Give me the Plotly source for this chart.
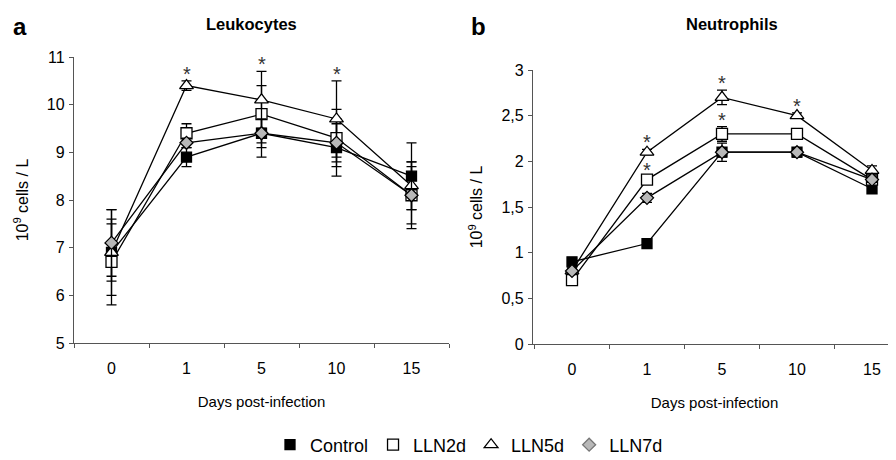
import plotly.graph_objects as go

days = ["0", "1", "5", "10", "15"]
groups = ["Control", "LLN2d", "LLN5d", "LLN7d"]

# Leukocytes (10^9 cells / L)
leuko_mean = {
    "Control": [6.9, 8.9, 9.4, 9.1, 8.5],
    "LLN2d":   [6.7, 9.4, 9.8, 9.3, 8.1],
    "LLN5d":   [6.9, 10.4, 10.1, 9.7, 8.3],
    "LLN7d":   [7.1, 9.2, 9.4, 9.2, 8.1],
}
leuko_err = {
    "Control": [0.9, 0.2, 0.5, 0.6, 0.7],
    "LLN2d":   [0.9, 0.2, 0.6, 0.6, 0.7],
    "LLN5d":   [0.6, 0.1, 0.6, 0.8, 0.5],
    "LLN7d":   [0.7, 0.1, 0.3, 0.4, 0.6],
}
# Neutrophils (10^9 cells / L)
neutro_mean = {
    "Control": [0.9, 1.1, 2.1, 2.1, 1.7],
    "LLN2d":   [0.7, 1.8, 2.3, 2.3, 1.8],
    "LLN5d":   [0.8, 2.1, 2.7, 2.5, 1.9],
    "LLN7d":   [0.8, 1.6, 2.1, 2.1, 1.8],
}
neutro_err = {
    "Control": [0.03, 0.03, 0.1, 0.05, 0.03],
    "LLN2d":   [0.03, 0.03, 0.08, 0.03, 0.03],
    "LLN5d":   [0.03, 0.03, 0.08, 0.03, 0.05],
    "LLN7d":   [0.03, 0.05, 0.05, 0.05, 0.03],
}
# significance marks (group, day index)
leuko_sig = [("LLN5d", 1), ("LLN5d", 2), ("LLN5d", 3)]
neutro_sig = [("LLN5d", 1), ("LLN5d", 2), ("LLN5d", 3), ("LLN2d", 1), ("LLN2d", 2)]

leuko_ticks = [5, 6, 7, 8, 9, 10, 11]
neutro_ticks = [0, 0.5, 1, 1.5, 2, 2.5, 3]
neutro_ticktext = ["0", "0,5", "1", "1,5", "2", "2,5", "3"]

styles = {
    "Control": dict(symbol="square", color="black", size=10),
    "LLN2d": dict(symbol="square", color="white", size=11),
    "LLN5d": dict(symbol="triangle-up", color="white", size=12),
    "LLN7d": dict(symbol="diamond", color="#b8b8b8", size=10),
}

FONT = "Liberation Sans, Arial, sans-serif"
W, H = 896, 460
OX, OY = 8, 8  # page body margin offset of the plot div


def fx(px):
    return (px - OX) / W


def fy(py):
    return 1 - (py - OY) / H


fig = go.Figure()

for g in groups:
    st = styles[g]
    for (mean, err, xa, ya) in [(leuko_mean, leuko_err, "x", "y"), (neutro_mean, neutro_err, "x2", "y2")]:
        fig.add_trace(go.Scatter(
            x=days, y=mean[g], xaxis=xa, yaxis=ya, mode="lines+markers", name=g,
            showlegend=False,
            line=dict(color="black", width=1.3),
            marker=dict(symbol=st["symbol"], color=st["color"], size=st["size"],
                        line=dict(color="black", width=1.3)),
            error_y=dict(type="data", array=err[g], color="black", thickness=1.3, width=5),
        ))
    # legend entry
    fig.add_trace(go.Scatter(
        x=[None], y=[None], mode="markers", name=g, showlegend=True,
        marker=dict(symbol=st["symbol"], color=st["color"], size=st["size"],
                    line=dict(color="black" if g != "LLN7d" else "#777", width=1.3)),
    ))

annotations = []
for (g, i) in leuko_sig:
    annotations.append(dict(x=i, y=leuko_mean[g][i] + leuko_err[g][i], xref="x", yref="y",
                            text="*", showarrow=False, yanchor="bottom", yshift=-6,
                            font=dict(family=FONT, size=20, color="#333")))
for (g, i) in neutro_sig:
    annotations.append(dict(x=i, y=neutro_mean[g][i] + neutro_err[g][i], xref="x2", yref="y2",
                            text="*", showarrow=False, yanchor="bottom", yshift=-6,
                            font=dict(family=FONT, size=20, color="#333")))

annotations += [
    dict(x=fx(20), y=fy(27), xref="paper", yref="paper", text="<b>a</b>", showarrow=False,
         font=dict(family=FONT, size=24, color="black"), xanchor="center", yanchor="middle"),
    dict(x=fx(478), y=fy(27), xref="paper", yref="paper", text="<b>b</b>", showarrow=False,
         font=dict(family=FONT, size=24, color="black"), xanchor="center", yanchor="middle"),
    dict(x=fx(252), y=fy(24), xref="paper", yref="paper", text="<b>Leukocytes</b>", showarrow=False,
         font=dict(family=FONT, size=16.5, color="black"), xanchor="center", yanchor="middle"),
    dict(x=fx(732), y=fy(24), xref="paper", yref="paper", text="<b>Neutrophils</b>", showarrow=False,
         font=dict(family=FONT, size=16.5, color="black"), xanchor="center", yanchor="middle"),
]

axis_common = dict(showline=True, linecolor="#555", linewidth=1.3, showgrid=False, zeroline=False,
                   ticks="outside", ticklen=4, tickcolor="#555", tickwidth=1.3, automargin=False,
                   tickfont=dict(family=FONT, size=16, color="black"))

fig.update_layout(
    width=W, height=H, margin=dict(l=0, r=0, t=0, b=0, autoexpand=False),
    paper_bgcolor="white", plot_bgcolor="white",
    font=dict(family=FONT, color="black"),
    showlegend=True,
    legend=dict(orientation="h", x=fx(270), xanchor="left", y=fy(445), yanchor="middle",
                font=dict(family=FONT, size=18, color="black"), itemwidth=30,
                bgcolor="rgba(0,0,0,0)"),
    annotations=annotations,
    xaxis=dict(axis_common, type="category", domain=[fx(74), fx(449)], range=[-0.5, 4.5],
               tickson="boundaries", anchor="y", ticklabelstandoff=11,
               title=dict(text="Days post-infection", font=dict(family=FONT, size=15), standoff=20)),
    yaxis=dict(axis_common, domain=[fy(343), fy(57)], range=[5, 11], tickvals=leuko_ticks,
               anchor="x", ticklabelstandoff=1,
               title=dict(text="10<sup>9</sup> cells / L", font=dict(family=FONT, size=16), standoff=14)),
    xaxis2=dict(axis_common, type="category", domain=[fx(533), fx(896)], range=[-0.52, 4.32],
                tickson="boundaries", anchor="y2", ticklabelstandoff=11,
                title=dict(text="Days post-infection", font=dict(family=FONT, size=15), standoff=20)),
    yaxis2=dict(axis_common, domain=[fy(344), fy(70)], range=[0, 3], tickvals=neutro_ticks,
                ticktext=neutro_ticktext, anchor="x2", ticklabelstandoff=1,
                title=dict(text="10<sup>9</sup> cells / L", font=dict(family=FONT, size=16), standoff=14)),
)

fig.write_html("out.html")
